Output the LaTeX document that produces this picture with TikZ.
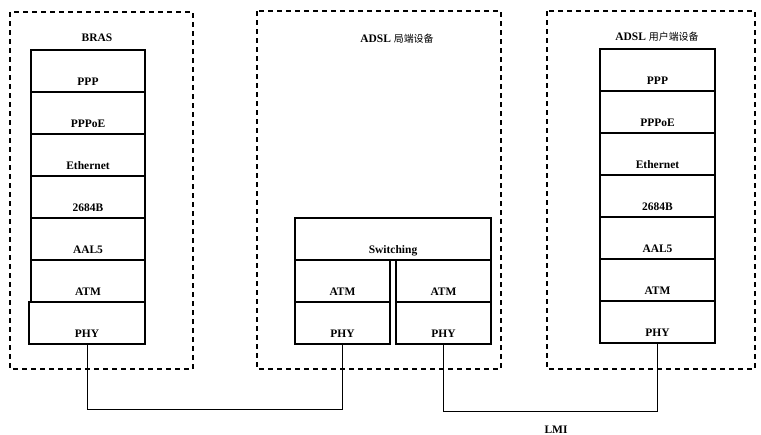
\documentclass[tikz,border=0pt]{standalone}
\usepackage{fontspec}
\setmainfont{Liberation Serif}
\newfontfamily\cjk{Noto Sans CJK SC}
\begin{document}
\begin{tikzpicture}[x=0.3mm,y=-0.3mm,
  layer/.style={draw,line width=0.9pt,minimum height=12.6mm,inner sep=0pt,
    text height=8.4mm,text depth=0pt,font=\fontsize{9.8}{11}\selectfont\bfseries},
  devbox/.style={line width=0.9pt,dash pattern=on 1.5mm off 1.2mm},
  link/.style={line width=0.8pt},
  title/.style={font=\fontsize{9.8}{11}\selectfont\bfseries}]
\useasboundingbox (0,0) rectangle (761,435);
% 三个设备的虚线框
\draw[devbox] (10,12) rectangle (193,369);
\draw[devbox] (257,11) rectangle (501,369);
\draw[devbox] (547,11) rectangle (755,369);
% BRAS 协议栈
\node[title] (bras) at (97,38) {BRAS};
\node[layer,minimum width=34.2mm] (bras-ppp) at (88,71) {PPP};
\node[layer,minimum width=34.2mm] (bras-pppoe) at (88,113) {PPPoE};
\node[layer,minimum width=34.2mm] (bras-eth) at (88,155) {Ethernet};
\node[layer,minimum width=34.2mm] (bras-rfc) at (88,197) {2684B};
\node[layer,minimum width=34.2mm] (bras-aal) at (88,239) {AAL5};
\node[layer,minimum width=34.2mm] (bras-atm) at (88,281) {ATM};
\node[layer,minimum width=34.8mm] (bras-phy) at (87,323) {PHY};
% 局端设备（交换）
\node[title] (dslam) at (397,39) {ADSL {\cjk\mdseries\fontsize{8.5}{10}\selectfont 局端设备}};
\node[layer,minimum width=58.8mm] (dslam-sw) at (393,239) {Switching};
\node[layer,minimum width=28.5mm] (dslam-atm-a) at (342.5,281) {ATM};
\node[layer,minimum width=28.5mm] (dslam-phy-a) at (342.5,323) {PHY};
\node[layer,minimum width=28.5mm] (dslam-atm-b) at (443.5,281) {ATM};
\node[layer,minimum width=28.5mm] (dslam-phy-b) at (443.5,323) {PHY};
% 用户端设备协议栈
\node[title] (cpe) at (657,37) {ADSL {\cjk\mdseries\fontsize{8.5}{10}\selectfont 用户端设备}};
\node[layer,minimum width=34.5mm] (cpe-ppp) at (657.5,70) {PPP};
\node[layer,minimum width=34.5mm] (cpe-pppoe) at (657.5,112) {PPPoE};
\node[layer,minimum width=34.5mm] (cpe-eth) at (657.5,154) {Ethernet};
\node[layer,minimum width=34.5mm] (cpe-rfc) at (657.5,196) {2684B};
\node[layer,minimum width=34.5mm] (cpe-aal) at (657.5,238) {AAL5};
\node[layer,minimum width=34.5mm] (cpe-atm) at (657.5,280) {ATM};
\node[layer,minimum width=34.5mm] (cpe-phy) at (657.5,322) {PHY};
% 物理连线
\draw[link] (bras-phy.south) -- ++(0,65) -| (dslam-phy-a.south);
\draw[link] (dslam-phy-b.south) -- ++(0,67) -| (cpe-phy.south);
\node[title] (lmi) at (556,430) {LMI};
\end{tikzpicture}
\end{document}
